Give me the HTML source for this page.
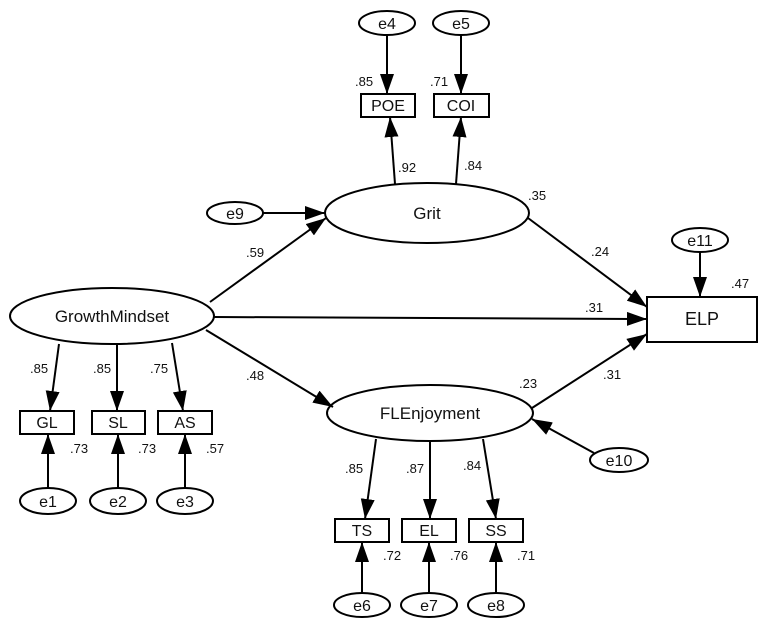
<!DOCTYPE html>
<html><head><meta charset="utf-8"><style>
html,body{margin:0;padding:0;background:#fff;}
svg{display:block;font-family:"Liberation Sans",Arial,sans-serif;}
.n{font-size:13px;fill:#111;}
.b{font-size:16px;fill:#111;text-anchor:middle;}
.l{font-size:17px;fill:#111;text-anchor:middle;}
</style></head><body>
<svg width="765" height="629" viewBox="0 0 765 629" xmlns="http://www.w3.org/2000/svg">
<defs>
<marker id="a" markerUnits="userSpaceOnUse" markerWidth="22" markerHeight="14" refX="20" refY="7" orient="auto">
<path d="M0,0 L20,7 L0,14 Z" fill="#000"/>
</marker>
</defs>
<g stroke="#000" stroke-width="2" fill="none">
<ellipse cx="112" cy="316" rx="102" ry="28" fill="#fff"/>
<ellipse cx="427" cy="213" rx="102" ry="30" fill="#fff"/>
<ellipse cx="430" cy="413" rx="103" ry="28" fill="#fff"/>
<ellipse cx="387" cy="23" rx="28" ry="12"/>
<ellipse cx="461" cy="23" rx="28" ry="12"/>
<ellipse cx="235" cy="213" rx="28" ry="11"/>
<ellipse cx="700" cy="240" rx="28" ry="12"/>
<ellipse cx="619" cy="460" rx="29" ry="12"/>
<ellipse cx="48" cy="501" rx="28" ry="13"/>
<ellipse cx="118" cy="501" rx="28" ry="13"/>
<ellipse cx="185" cy="501" rx="28" ry="13"/>
<ellipse cx="362" cy="605" rx="28" ry="12"/>
<ellipse cx="429" cy="605" rx="28" ry="12"/>
<ellipse cx="496" cy="605" rx="28" ry="12"/>
<rect x="361" y="94" width="54" height="23"/>
<rect x="434" y="94" width="55" height="23"/>
<rect x="647" y="297" width="110" height="45"/>
<rect x="20" y="411" width="54" height="23"/>
<rect x="92" y="411" width="53" height="23"/>
<rect x="158" y="411" width="54" height="23"/>
<rect x="335" y="519" width="54" height="23"/>
<rect x="402" y="519" width="54" height="23"/>
<rect x="469" y="519" width="54" height="23"/>
<g marker-end="url(#a)">
<line x1="387" y1="35" x2="387" y2="94"/>
<line x1="461" y1="35" x2="461" y2="94"/>
<line x1="395" y1="184" x2="390" y2="117"/>
<line x1="456" y1="184" x2="461" y2="117"/>
<line x1="263" y1="213" x2="325" y2="213"/>
<line x1="210" y1="302" x2="326" y2="218"/>
<line x1="214" y1="317" x2="647" y2="319"/>
<line x1="206" y1="330" x2="333" y2="407"/>
<line x1="528" y1="218" x2="647" y2="307"/>
<line x1="532" y1="408" x2="647" y2="334"/>
<line x1="594" y1="453" x2="532" y2="419"/>
<line x1="700" y1="252" x2="700" y2="297"/>
<line x1="59" y1="344" x2="50" y2="411"/>
<line x1="117" y1="344" x2="117" y2="411"/>
<line x1="172" y1="343" x2="183" y2="411"/>
<line x1="48" y1="488" x2="48" y2="434"/>
<line x1="118" y1="488" x2="118" y2="434"/>
<line x1="185" y1="488" x2="185" y2="434"/>
<line x1="376" y1="439" x2="365" y2="519"/>
<line x1="430" y1="441" x2="430" y2="519"/>
<line x1="483" y1="439" x2="496" y2="519"/>
<line x1="362" y1="593" x2="362" y2="542"/>
<line x1="429" y1="593" x2="429" y2="542"/>
<line x1="496" y1="593" x2="496" y2="542"/>
</g>
</g>
<text class="l" x="112" y="322">GrowthMindset</text>
<text class="l" x="427" y="219">Grit</text>
<text class="l" x="430" y="419">FLEnjoyment</text>
<text class="l" x="702" y="325" style="font-size:18px">ELP</text>
<text class="b" x="388" y="111">POE</text>
<text class="b" x="461" y="111">COI</text>
<text class="b" x="47" y="428">GL</text>
<text class="b" x="118" y="428">SL</text>
<text class="b" x="185" y="428">AS</text>
<text class="b" x="362" y="536">TS</text>
<text class="b" x="429" y="536">EL</text>
<text class="b" x="496" y="536">SS</text>
<text class="b" x="387" y="29">e4</text>
<text class="b" x="461" y="29">e5</text>
<text class="b" x="235" y="219">e9</text>
<text class="b" x="700" y="246">e11</text>
<text class="b" x="619" y="466">e10</text>
<text class="b" x="48" y="507">e1</text>
<text class="b" x="118" y="507">e2</text>
<text class="b" x="185" y="507">e3</text>
<text class="b" x="362" y="611">e6</text>
<text class="b" x="429" y="611">e7</text>
<text class="b" x="496" y="611">e8</text>
<text class="n" x="355" y="86">.85</text>
<text class="n" x="430" y="86">.71</text>
<text class="n" x="398" y="172">.92</text>
<text class="n" x="464" y="170">.84</text>
<text class="n" x="528" y="200">.35</text>
<text class="n" x="246" y="257">.59</text>
<text class="n" x="246" y="380">.48</text>
<text class="n" x="591" y="256">.24</text>
<text class="n" x="585" y="312">.31</text>
<text class="n" x="603" y="379">.31</text>
<text class="n" x="731" y="288">.47</text>
<text class="n" x="519" y="388">.23</text>
<text class="n" x="30" y="373">.85</text>
<text class="n" x="93" y="373">.85</text>
<text class="n" x="150" y="373">.75</text>
<text class="n" x="70" y="453">.73</text>
<text class="n" x="138" y="453">.73</text>
<text class="n" x="206" y="453">.57</text>
<text class="n" x="345" y="473">.85</text>
<text class="n" x="406" y="473">.87</text>
<text class="n" x="463" y="470">.84</text>
<text class="n" x="383" y="560">.72</text>
<text class="n" x="450" y="560">.76</text>
<text class="n" x="517" y="560">.71</text>
</svg>
</body></html>
